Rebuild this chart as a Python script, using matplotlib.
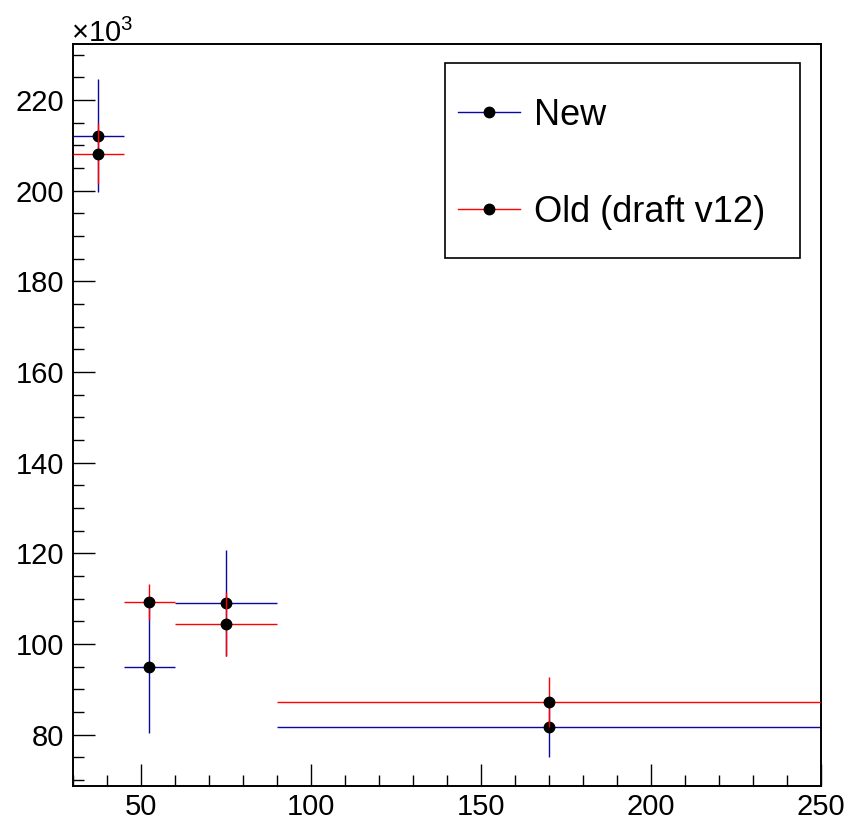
import numpy as np
import matplotlib.pyplot as plt
from matplotlib.lines import Line2D
from matplotlib.patches import Rectangle

plt.rcParams['font.family'] = ['Liberation Sans', 'DejaVu Sans']
plt.rcParams['mathtext.fontset'] = 'custom'
plt.rcParams['mathtext.rm'] = 'Liberation Sans'

# bin edges (x) and values in units of 10^3
bin_lo = [30, 45, 60, 90]
bin_hi = [45, 60, 90, 250]
new_val = [212.2, 95.0, 109.0, 81.7]
new_err = [12.5, 14.6, 11.7, 6.7]
old_val = [208.2, 109.3, 104.4, 87.3]
old_err = [6.8, 4.0, 7.1, 5.5]

blue = '#0a0aa0'
red = '#ff0000'

lo = np.array(bin_lo)
hi = np.array(bin_hi)
xc = (lo + hi) / 2
xerr = (hi - lo) / 2

fig = plt.figure(figsize=(8.51, 8.24), dpi=100)
ax = fig.add_axes([72.5 / 851, 1 - 786 / 824, (821 - 72.5) / 851, (786 - 43.5) / 824])

ax.errorbar(xc, new_val, xerr=xerr, yerr=new_err, fmt='o', color=blue, ecolor=blue,
            elinewidth=1, mfc='black', mec='black', ms=7.5, capsize=0, zorder=2)
ax.errorbar(xc, old_val, xerr=xerr, yerr=old_err, fmt='o', color=red, ecolor=red,
            elinewidth=1, mfc='black', mec='black', ms=7.5, capsize=0, zorder=3)

ax.set_xlim(30, 250)
ax.set_ylim(68.7, 232.5)
ax.set_xticks(np.arange(50, 251, 50))
ax.set_xticks(np.arange(30, 251, 10), minor=True)
ax.set_yticks(np.arange(80, 221, 20))
ax.set_yticks(np.arange(70, 231, 5), minor=True)
ax.tick_params(which='both', direction='in', labelsize=21, color='black')
ax.tick_params(which='major', length=15.8, width=1)
ax.tick_params(which='minor', length=7.9, width=1)
ax.tick_params(axis='x', pad=5)
ax.tick_params(axis='y', pad=6)
for s in ax.spines.values():
    s.set_linewidth(1.4)

fig.text(71 / 851, 1 - 42 / 824, r'$\times$10$^{3}$', fontsize=21, ha='left', va='baseline')

handles = [Line2D([], [], color=blue, lw=1, marker='o', mfc='black', mec='black', ms=7.5),
           Line2D([], [], color=red, lw=1, marker='o', mfc='black', mec='black', ms=7.5)]
fig.legend(handles, ['New', 'Old (draft v12)'], loc='center left',
           bbox_to_anchor=(440 / 851, 1 - 164 / 824), frameon=False, fontsize=26,
           borderpad=0, handlelength=1.72, handletextpad=0.39, labelspacing=1.72)
fig.patches.append(Rectangle((445 / 851, 1 - 258 / 824), 355 / 851, 195 / 824,
                             transform=fig.transFigure, fill=False, ec='black', lw=1.2))

plt.savefig('out.png', dpi=100)
